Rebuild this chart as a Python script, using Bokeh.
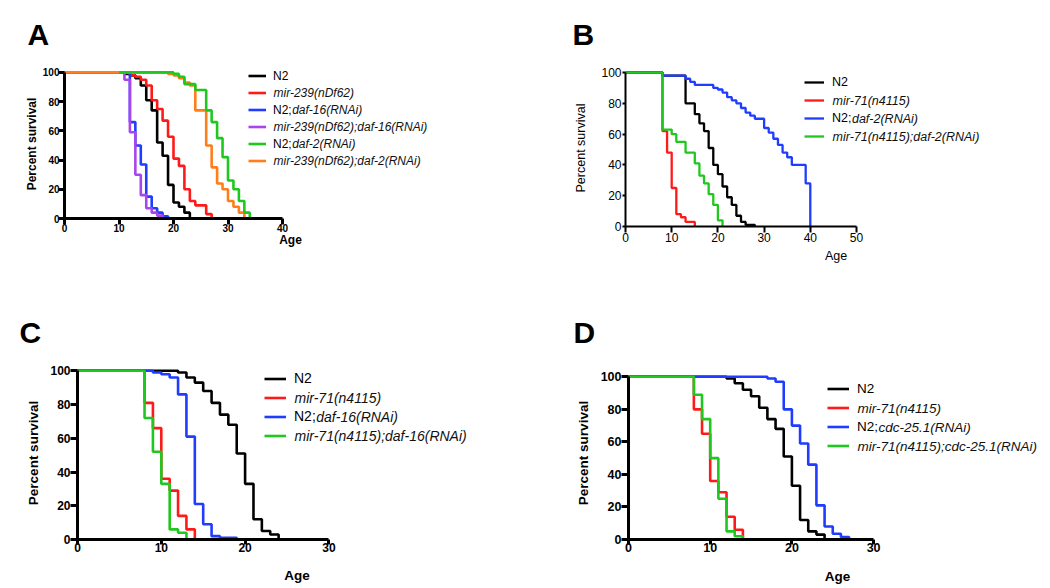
from bokeh.plotting import figure
from bokeh.models import FixedTicker, Legend, LegendItem, Range1d, ColumnDataSource
from bokeh.layouts import row, column
from bokeh.core.properties import value
from bokeh.embed import file_html
from bokeh.resources import INLINE

FONT = "Liberation Sans"

# ---------------- data (age in days, percent survival) ----------------
# Panel A
A_N2_AGE = [0, 11, 12, 13, 14, 15, 16, 17, 18, 19, 20, 21, 22, 23]
A_N2_SURV = [100, 99, 98, 96, 91, 81, 74, 52, 43, 23, 11, 8, 4, 0]
A_MIR239_AGE = [0, 12, 13, 14, 15, 16, 17, 18, 19, 20, 21, 22, 23, 24, 26, 27]
A_MIR239_SURV = [100, 98, 97, 95, 91, 81, 75, 67, 56, 41, 36, 20, 12, 9, 3, 0]
A_DAF16_AGE = [0, 12, 13, 14, 15, 16, 17, 18, 19]
A_DAF16_SURV = [100, 66, 50, 37, 15, 7, 4, 1.5, 0]
A_MIR239_DAF16_AGE = [0, 11, 12, 13, 14, 15, 16, 17, 18]
A_MIR239_DAF16_SURV = [100, 95, 59, 30, 16, 7, 4, 2, 0]
A_DAF2_AGE = [10, 20, 21, 22, 24, 26, 27, 28, 29, 30, 31, 32, 33, 34]
A_DAF2_SURV = [100, 99, 97, 92, 88, 74, 66, 55, 42, 26, 20, 12, 4, 0]
A_MIR239_DAF2_AGE = [0, 19, 20, 21, 22, 23, 24, 26, 27, 28, 29, 30, 31, 32, 33]
A_MIR239_DAF2_SURV = [100, 99, 98, 96, 93, 91, 74, 50, 35, 24, 20, 12, 8, 4, 0]
A_LABELS = ["N2", "mir-239(nDf62)", "N2;daf-16(RNAi)", "mir-239(nDf62);daf-16(RNAi)",
            "N2;daf-2(RNAi)", "mir-239(nDf62);daf-2(RNAi)"]
A_XTICKS = [0, 10, 20, 30, 40]

# Panel B
B_N2_AGE = [0, 8, 13, 15, 16, 17, 18, 19, 20, 21, 22, 23, 24, 25, 26, 28]
B_N2_SURV = [100, 98, 80, 73, 67, 62, 51, 40, 34, 26, 19, 14, 7, 3, 1, 0]
B_MIR71_AGE = [0, 8, 9, 10, 11, 12, 13, 15]
B_MIR71_SURV = [100, 62, 48, 25, 8, 6, 3, 0]
B_DAF2_AGE = [0, 8, 13, 14, 15, 19, 20, 21, 22, 23, 24, 25, 26, 27, 28, 30, 31, 32, 33, 34, 35, 36, 39, 40]
B_DAF2_SURV = [100, 98, 96, 94, 92, 90, 89, 87, 84, 82, 80, 77, 74, 72, 70, 64, 61, 57, 53, 48, 45, 40, 28, 0]
B_MIR71_DAF2_AGE = [0, 8, 10, 11, 13, 15, 16, 17, 18, 19, 20, 21]
B_MIR71_DAF2_SURV = [100, 63, 60, 55, 48, 41, 33, 28, 21, 14, 4, 0]
B_LABELS = ["N2", "mir-71(n4115)", "N2;daf-2(RNAi)", "mir-71(n4115);daf-2(RNAi)"]
B_XTICKS = [0, 10, 20, 30, 40, 50]

# Panel C
C_N2_AGE = [0, 12, 13, 14, 15, 16, 17, 18, 19, 20, 21, 22, 23, 24]
C_N2_SURV = [100, 99, 96, 93, 88, 81, 74, 68, 51, 33, 12, 5, 3, 0]
C_MIR71_AGE = [0, 8, 9, 10, 11, 12, 13, 14]
C_MIR71_SURV = [100, 81, 66, 36, 29, 14, 6, 0]
C_DAF16_AGE = [0, 9, 10, 11, 12, 13, 14, 15, 16, 17, 19]
C_DAF16_SURV = [100, 99, 98, 96, 86, 61, 21, 9, 2, 1, 0]
C_MIR71_DAF16_AGE = [0, 8, 9, 10, 11, 12, 13]
C_MIR71_DAF16_SURV = [100, 72, 52, 33, 6, 4, 0]
C_LABELS = ["N2", "mir-71(n4115)", "N2;daf-16(RNAi)", "mir-71(n4115);daf-16(RNAi)"]
C_XTICKS = [0, 10, 20, 30]

# Panel D
D_N2_AGE = [0, 12, 13, 14, 15, 16, 17, 18, 19, 20, 21, 22, 23, 24]
D_N2_SURV = [100, 99, 96, 92, 88, 81, 74, 68, 51, 33, 12, 5, 3, 0]
D_MIR71_AGE = [0, 8, 9, 10, 11, 12, 13, 14]
D_MIR71_SURV = [100, 80, 65, 36, 29, 14, 6, 0]
D_CDC25_AGE = [0, 17, 18, 19, 20, 21, 22, 23, 24, 25, 26, 27]
D_CDC25_SURV = [100, 99, 97, 80, 70, 59, 46, 21, 8, 3.5, 1.5, 0]
D_MIR71_CDC25_AGE = [0, 8, 9, 10, 11, 12, 13, 14]
D_MIR71_CDC25_SURV = [100, 89, 74, 50, 25, 5, 2, 0]
D_LABELS = ["N2", "mir-71(n4115)", "N2;cdc-25.1(RNAi)", "mir-71(n4115);cdc-25.1(RNAi)"]
D_XTICKS = [0, 10, 20, 30]

Y_TICKS = [0, 20, 40, 60, 80, 100]

BLACK = "#000000"
RED = "#ff1a1a"
BLUE = "#1f3cff"
PURPLE = "#a846ec"
GREEN = "#1ec81e"
ORANGE = "#ff7d1a"

# Liberation Sans (Arial metrics) advance width in em of the upright prefix "N2;"
UPRIGHT_PREFIX_EM = 0.722 + 0.556 + 0.278


def split_label(lab):
    """Return (upright part, italic part)."""
    if lab == "N2":
        return "N2", ""
    if lab.startswith("N2;"):
        return "N2;", lab[3:]
    return "", lab


def make_panel(cfg):
    fw = cfg["width"] - cfg["bl"] - cfg["br"]
    x_end = fw / cfg["px_per_day"]
    px_per_pct = cfg["fh"] / cfg["ymax"]
    p = figure(frame_width=fw, frame_height=cfg["fh"],
               x_range=Range1d(0, x_end), y_range=Range1d(0, cfg["ymax"]),
               output_backend="svg", toolbar_location=None,
               min_border_left=cfg["bl"], min_border_right=cfg["br"],
               min_border_top=cfg["bt"], min_border_bottom=cfg["bb"])
    p.outline_line_color = None
    p.grid.visible = False
    p.background_fill_color = "white"
    p.border_fill_color = "white"

    # panel letter as a left-aligned title
    p.title.text = cfg["letter"]
    p.title.align = "left"
    p.title.vertical_align = "top"
    p.title.offset = cfg["letter_dx"]
    p.title.standoff = cfg["letter_so"]
    p.title.text_font = FONT
    p.title.text_font_size = "30px"
    p.title.text_font_style = "bold"
    p.title.text_color = "black"

    style = cfg["style"]
    xt = cfg["xticks"]
    p.xaxis.ticker = FixedTicker(ticks=xt)
    p.xaxis.bounds = (xt[0], xt[-1])
    p.yaxis.ticker = FixedTicker(ticks=Y_TICKS)
    p.yaxis.bounds = (0, 100)
    p.xaxis.axis_label = "Age"
    p.yaxis.axis_label = "Percent survival"
    for ax in (p.xaxis[0], p.yaxis[0]):
        ax.axis_line_width = cfg["aw"]
        ax.axis_line_color = "black"
        ax.major_tick_line_width = cfg["aw"]
        ax.major_tick_line_color = "black"
        ax.major_tick_in = 0
        ax.minor_tick_line_color = None
        ax.major_label_text_font = FONT
        ax.major_label_text_font_size = cfg["tick_fs"]
        ax.major_label_text_font_style = style
        ax.major_label_text_color = "black"
        ax.axis_label_text_font = FONT
        ax.axis_label_text_font_size = cfg["lab_fs"]
        ax.axis_label_text_font_style = style
        ax.axis_label_text_color = "black"
    p.xaxis.major_tick_out = cfg["xtick_out"]
    p.yaxis.major_tick_out = cfg["ytick_out"]
    p.xaxis.major_label_standoff = cfg["xlab_so"]
    p.yaxis.major_label_standoff = cfg["ylab_so"]
    p.xaxis.axis_label_standoff = cfg["xaxlab_so"]
    p.yaxis.axis_label_standoff = cfg["yaxlab_so"]

    renderers = {}
    for idx in cfg["draw_order"]:
        ages, surv, color = cfg["series"][idx]
        src = ColumnDataSource(dict(x=ages, y=surv))
        r = p.step("x", "y", source=src, mode="after", line_color=color,
                   line_width=cfg["lw"])
        renderers[idx] = r

    n = len(cfg["labels"])
    pitch = cfg["pitch"]
    items = []
    for i, lab in enumerate(cfg["labels"]):
        up, _ = split_label(lab)
        items.append(LegendItem(label=value(up if up else " "), renderers=[renderers[i]]))
    vx, vy = cfg["leg_loc"]
    leg = Legend(items=items, location=(vx, vy), orientation="vertical",
                 glyph_width=cfg["gw"], glyph_height=pitch, label_height=pitch,
                 label_width=10, label_standoff=cfg["gso"], spacing=0, padding=0, margin=0,
                 border_line_color=None, background_fill_alpha=0,
                 label_text_font=FONT, label_text_font_size=cfg["leg_fs"],
                 label_text_color="black", label_text_font_style="normal")
    p.add_layout(leg)

    # italic parts of the legend labels, placed next to the legend rows
    fs = float(cfg["leg_fs"].replace("px", ""))
    tx, ty, tt = [], [], []
    for i, lab in enumerate(cfg["labels"]):
        up, it = split_label(lab)
        if not it:
            continue
        x0 = vx + cfg["gw"] + cfg["gso"]
        if up:
            x0 += UPRIGHT_PREFIX_EM * fs
        yc = vy + n * pitch - pitch * (i + 0.5)
        tx.append(x0 / cfg["px_per_day"])
        ty.append(yc / px_per_pct)
        tt.append(it)
    p.text(x=tx, y=ty, text=tt, text_font=value(FONT), text_font_size=value(cfg["leg_fs"]),
           text_font_style="italic", text_color="#111111",
           text_baseline="middle", text_align="left")
    return p


cfgA = dict(width=520, px_per_day=5.45, fh=149, ymax=102, bl=64, br=4, bt=69, bb=80,
            xticks=A_XTICKS, style="bold", aw=3, lw=2.6,
            tick_fs="10px", lab_fs="12px", xtick_out=6, ytick_out=6,
            xlab_so=-1, ylab_so=-1, xaxlab_so=-2, yaxlab_so=1,
            series=[(A_N2_AGE, A_N2_SURV, BLACK), (A_MIR239_AGE, A_MIR239_SURV, RED),
                    (A_DAF16_AGE, A_DAF16_SURV, BLUE), (A_MIR239_DAF16_AGE, A_MIR239_DAF16_SURV, PURPLE),
                    (A_DAF2_AGE, A_DAF2_SURV, GREEN), (A_MIR239_DAF2_AGE, A_MIR239_DAF2_SURV, ORANGE)],
            draw_order=[0, 1, 2, 3, 5, 4], labels=A_LABELS,
            pitch=17, gw=18, gso=7, leg_loc=(184, 48.8), leg_fs="12px",
            letter="A", letter_dx=-37, letter_so=33)

cfgB = dict(width=530, px_per_day=4.62, fh=157, ymax=102, bl=105, br=4, bt=69, bb=72,
            xticks=B_XTICKS, style="normal", aw=2, lw=2.3,
            tick_fs="12px", lab_fs="12.5px", xtick_out=6, ytick_out=3,
            xlab_so=0, ylab_so=1, xaxlab_so=4, yaxlab_so=10,
            series=[(B_N2_AGE, B_N2_SURV, BLACK), (B_MIR71_AGE, B_MIR71_SURV, RED),
                    (B_DAF2_AGE, B_DAF2_SURV, BLUE), (B_MIR71_DAF2_AGE, B_MIR71_DAF2_SURV, GREEN)],
            draw_order=[0, 1, 2, 3], labels=B_LABELS,
            pitch=18, gw=20, gso=8, leg_loc=(179, 81), leg_fs="12.5px",
            letter="B", letter_dx=-53, letter_so=33)

cfgC = dict(width=520, px_per_day=8.38, fh=173, ymax=102.55, bl=77, br=4, bt=68, bb=47,
            xticks=C_XTICKS, style="bold", aw=3, lw=2.6,
            tick_fs="12px", lab_fs="13.5px", xtick_out=5, ytick_out=7,
            xlab_so=-2, ylab_so=0, xaxlab_so=13, yaxlab_so=6,
            series=[(C_N2_AGE, C_N2_SURV, BLACK), (C_MIR71_AGE, C_MIR71_SURV, RED),
                    (C_DAF16_AGE, C_DAF16_SURV, BLUE), (C_MIR71_DAF16_AGE, C_MIR71_DAF16_SURV, GREEN)],
            draw_order=[0, 1, 2, 3], labels=C_LABELS,
            pitch=19, gw=22, gso=8, leg_loc=(187, 94.5), leg_fs="14px",
            letter="C", letter_dx=-58, letter_so=32)

cfgD = dict(width=530, px_per_day=8.17, fh=173, ymax=106.33, bl=108, br=4, bt=68, bb=47,
            xticks=D_XTICKS, style="bold", aw=3, lw=2.6,
            tick_fs="12.5px", lab_fs="13.5px", xtick_out=5, ytick_out=7,
            xlab_so=-2, ylab_so=0, xaxlab_so=14, yaxlab_so=7,
            series=[(D_N2_AGE, D_N2_SURV, BLACK), (D_MIR71_AGE, D_MIR71_SURV, RED),
                    (D_CDC25_AGE, D_CDC25_SURV, BLUE), (D_MIR71_CDC25_AGE, D_MIR71_CDC25_SURV, GREEN)],
            draw_order=[0, 1, 2, 3], labels=D_LABELS,
            pitch=19, gw=22, gso=8, leg_loc=(199, 84), leg_fs="13.5px",
            letter="D", letter_dx=-55, letter_so=32)

pA = make_panel(cfgA)
pB = make_panel(cfgB)
pC = make_panel(cfgC)
pD = make_panel(cfgD)

layout = column(row(pA, pB), row(pC, pD))
open("out.html", "w").write(file_html(layout, INLINE))
